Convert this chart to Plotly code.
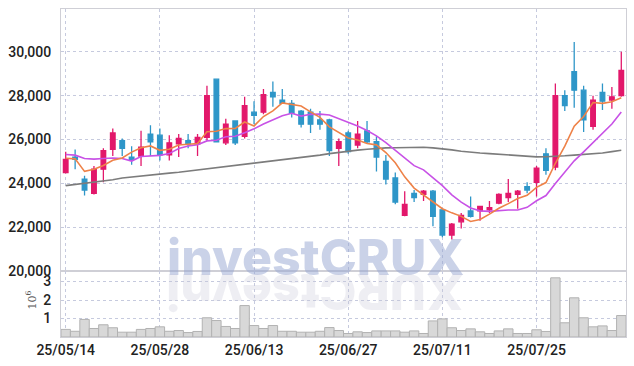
import plotly.graph_objects as go
from plotly.subplots import make_subplots

dates = ["25/05/14","25/05/15","25/05/16","25/05/19","25/05/20","25/05/21","25/05/22","25/05/23","25/05/26","25/05/27",
         "25/05/28","25/05/29","25/05/30","25/06/02","25/06/04","25/06/05","25/06/09","25/06/10","25/06/11","25/06/12",
         "25/06/13","25/06/16","25/06/17","25/06/18","25/06/19","25/06/20","25/06/23","25/06/24","25/06/25","25/06/26",
         "25/06/27","25/06/30","25/07/01","25/07/02","25/07/03","25/07/04","25/07/07","25/07/08","25/07/09","25/07/10",
         "25/07/11","25/07/14","25/07/15","25/07/16","25/07/17","25/07/18","25/07/21","25/07/22","25/07/23","25/07/24",
         "25/07/25","25/07/28","25/07/29","25/07/30","25/07/31","25/08/01","25/08/04","25/08/05","25/08/06","25/08/07"]

opens = [24500, 25200, 24200, 23550, 24650, 25550, 25950, 25200, 25250, 26250,
         26200, 25300, 25800, 25950, 25800, 26100, 28750, 25850, 26850, 26150,
         27250, 27250, 28150, 27800, 27650, 27300, 27250, 26900, 26900, 25600,
         26300, 25750, 26400, 25900, 25000, 24250, 22550, 23550, 23500, 23650,
         22800, 21650, 22250, 22750, 22750, 22800, 23100, 23350, 23500, 23850,
         24050, 25350, 24750, 28000, 29100, 28250, 26600, 28150, 27800, 28000]
highs = [25450, 25550, 24350, 24800, 25600, 26500, 26050, 25700, 26400, 26650,
         26500, 26200, 26250, 26250, 26250, 28450, 28750, 26950, 26850, 27950,
         27750, 28300, 28650, 28300, 27800, 27350, 27400, 27300, 26950, 26050,
         26400, 26850, 26850, 26150, 25300, 24500, 23650, 23700, 23700, 23700,
         22800, 22200, 22650, 23400, 22950, 23200, 23550, 24200, 23700, 24050,
         24800, 25600, 28550, 28250, 30450, 28450, 28000, 28550, 28400, 30000]
lows = [24450, 24650, 23450, 23500, 24050, 25250, 25250, 24850, 24800, 25250,
        25050, 25050, 25200, 25600, 25250, 25950, 25900, 25750, 25750, 26050,
        26700, 27150, 27500, 27650, 27000, 26550, 26300, 26450, 25250, 24800,
        25350, 25600, 25800, 24550, 23950, 23050, 22500, 23150, 23200, 22050,
        21550, 21450, 21950, 22450, 22300, 22650, 23050, 23150, 22850, 23550,
        23400, 24400, 24600, 27300, 27450, 26350, 26450, 27350, 27400, 27950]
closes = [25100, 25100, 23700, 24650, 25500, 26300, 25600, 25100, 25650, 25900,
          25300, 25850, 26050, 25800, 26100, 28000, 25900, 26700, 25850, 27550,
          27100, 28050, 27950, 27650, 27200, 26700, 26700, 26700, 25500, 25900,
          25450, 26250, 25900, 25200, 24200, 23150, 23050, 23350, 23650, 22500,
          21650, 22150, 22550, 22500, 22950, 22900, 23500, 23550, 23650, 23700,
          24700, 24600, 28000, 27550, 28250, 26900, 27800, 27750, 27950, 29150]

ma5 = [25150, 25120, 24550, 24650, 24820, 25060, 25160, 25430, 25630, 25710,
       25510, 25560, 25750, 25780, 25820, 26360, 26380, 26500, 26510, 26800,
       26620, 27050, 27310, 27670, 27600, 27530, 27260, 27010, 26580, 26320,
       26070, 25980, 25820, 25760, 25410, 24940, 24300, 23790, 23480, 23150,
       22850, 22660, 22500, 22270, 22360, 22600, 22870, 23080, 23310, 23460,
       23820, 24040, 24920, 25700, 26610, 27050, 27690, 27650, 27720, 27910]
ma10 = [25320, 25290, 25140, 25110, 25140, 25160, 25140, 25020, 25230, 25270,
        25280, 25360, 25590, 25710, 25770, 25940, 25970, 26130, 26150, 26310,
        26490, 26710, 26910, 27090, 27200, 27070, 27150, 27160, 27120, 26960,
        26800, 26620, 26410, 26170, 25860, 25510, 25140, 24810, 24620, 24280,
        23900, 23480, 23150, 22880, 22750, 22730, 22770, 22790, 22790, 22910,
        23210, 23450, 24000, 24500, 25030, 25440, 25860, 26280, 26710, 27260]
ma60 = [23900, 23950, 24000, 24050, 24100, 24170, 24250, 24300, 24340, 24380,
        24420, 24470, 24510, 24560, 24610, 24660, 24710, 24770, 24830, 24890,
        24940, 24990, 25030, 25080, 25120, 25170, 25230, 25290, 25360, 25420,
        25480, 25520, 25560, 25600, 25620, 25630, 25640, 25650, 25650, 25620,
        25590, 25530, 25470, 25420, 25390, 25360, 25330, 25300, 25270, 25240,
        25210, 25220, 25230, 25260, 25290, 25320, 25350, 25390, 25450, 25510]

volumes = [410000, 310000, 950000, 460000, 660000, 500000, 260000, 260000, 410000, 460000,
           550000, 310000, 350000, 240000, 300000, 1040000, 890000, 570000, 460000, 1700000,
           620000, 460000, 620000, 310000, 310000, 260000, 260000, 310000, 510000, 350000,
           190000, 280000, 240000, 330000, 330000, 330000, 260000, 330000, 190000, 870000,
           980000, 500000, 350000, 440000, 280000, 190000, 330000, 440000, 190000, 190000,
           390000, 300000, 3200000, 770000, 2120000, 1040000, 550000, 600000, 350000, 1160000]

tick_labels = ["25/05/14", "25/05/28", "25/06/13", "25/06/27", "25/07/11", "25/07/25"]
price_ticks = [20000, 22000, 24000, 26000, 28000, 30000]
volume_ticks = [1000000, 2000000, 3000000]
volume_tick_text = ["1", "2", "3"]

UP = "#e2186b"
DOWN = "#2e96c8"
GRID = "#c6cade"
BORDER = "#cfcfd6"
TICKFONT = dict(family="Roboto, sans-serif", size=14, color="#222222", weight=500)

fig = make_subplots(rows=2, cols=1, shared_xaxes=True, vertical_spacing=0)

fig.add_trace(go.Candlestick(
    x=dates, open=opens, high=highs, low=lows, close=closes,
    increasing=dict(line=dict(color=UP, width=1.3), fillcolor=UP),
    decreasing=dict(line=dict(color=DOWN, width=1.3), fillcolor=DOWN),
    whiskerwidth=0, showlegend=False, hoverinfo="skip"), row=1, col=1)

fig.add_trace(go.Scatter(x=dates, y=ma60, mode="lines", line=dict(color="#7c7c7c", width=1.6),
                         showlegend=False, hoverinfo="skip"), row=1, col=1)
fig.add_trace(go.Scatter(x=dates, y=ma10, mode="lines", line=dict(color="#c852e6", width=1.6),
                         showlegend=False, hoverinfo="skip"), row=1, col=1)
fig.add_trace(go.Scatter(x=dates, y=ma5, mode="lines", line=dict(color="#ee8248", width=1.6),
                         showlegend=False, hoverinfo="skip"), row=1, col=1)

fig.add_trace(go.Bar(x=dates, y=volumes, marker=dict(color="#d8d8d8", line=dict(color="#b2b2b2", width=1)),
                     showlegend=False, hoverinfo="skip"), row=2, col=1)

xcommon = dict(type="category", range=[-0.5, 59.5], tickmode="array", tickvals=tick_labels,
               ticktext=tick_labels, showgrid=True, gridcolor=GRID, griddash="dot", gridwidth=1,
               showline=True, mirror=True, linecolor=BORDER, linewidth=1, ticks="",
               zeroline=False, tickfont=TICKFONT, fixedrange=True)
fig.update_xaxes(**xcommon)
fig.update_layout(
    xaxis=dict(showticklabels=False, rangeslider=dict(visible=False)),
    xaxis2=dict(showticklabels=True),
    yaxis=dict(domain=[0.2005, 1.0], range=[20000, 31950], tickvals=price_ticks, tickformat=",",
               showgrid=True, gridcolor=GRID, griddash="dot", gridwidth=1, zeroline=False,
               showline=True, mirror=True, linecolor=BORDER, linewidth=1, ticks="",
               ticklabelstandoff=6, tickfont=TICKFONT, fixedrange=True),
    yaxis2=dict(domain=[0.0, 0.2005], range=[0, 3557000], tickvals=volume_ticks, ticktext=volume_tick_text,
                showgrid=True, gridcolor=GRID, griddash="dot", gridwidth=1, zeroline=False,
                showline=True, mirror=True, linecolor=BORDER, linewidth=1, ticks="",
                ticklabelstandoff=6, tickfont=TICKFONT, fixedrange=True),
    bargap=0,
    width=634, height=366,
    margin=dict(l=61, r=8, t=9, b=29),
    paper_bgcolor="white", plot_bgcolor="white",
    showlegend=False,
)

fig.add_annotation(text="investCRUX", xref="paper", yref="paper", x=0.4496, y=0.3428,
                   xanchor="center", yanchor="top", showarrow=False,
                   font=dict(family="Inter, Liberation Sans, sans-serif", size=50, weight=800,
                             color="rgba(150,165,210,0.5)"))
fig.add_annotation(text="XURCtsevni", xref="paper", yref="paper", x=0.4496, y=0.233,
                   xanchor="center", yanchor="top", showarrow=False, textangle=180,
                   font=dict(family="Inter, Liberation Sans, sans-serif", size=50, weight=800,
                             color="rgba(200,200,215,0.3)"))
fig.add_annotation(text="10<sup>6</sup>", xref="paper", yref="paper", x=-0.0513, y=0.111,
                   xanchor="center", yanchor="middle", showarrow=False, textangle=-90,
                   font=dict(family="DejaVu Serif, serif", size=11, color="#555555"))

fig.write_html("out.html", config={"displayModeBar": False, "staticPlot": True},
               post_script="document.body.style.margin='0';document.body.style.overflow='hidden';")
